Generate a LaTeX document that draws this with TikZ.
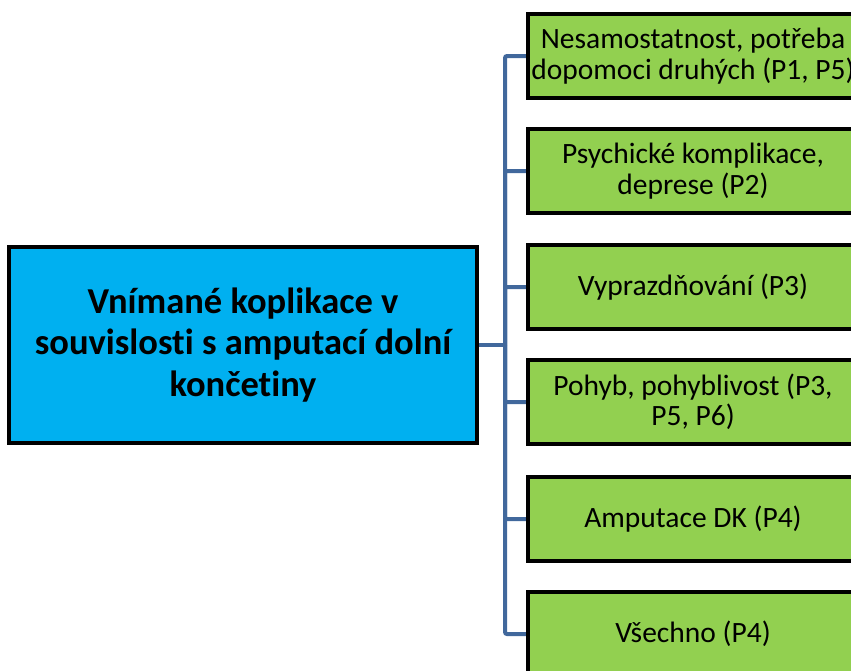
\documentclass[tikz,border=0pt]{standalone}
\usepackage{fontspec}
\setmainfont{Carlito}[Ligatures=NoCommon]
\usetikzlibrary{calc,backgrounds}
\definecolor{rootfill}{HTML}{00B0F0}
\definecolor{leaffill}{HTML}{92D050}
\definecolor{linkcol}{HTML}{41689C}
\begin{document}
\begin{tikzpicture}[x=1pt,y=-1pt,
  rootbox/.style={draw=black,line width=4pt,fill=rootfill,minimum width=468pt,minimum height=196pt,
    align=center,font=\fontsize{36.5}{41.5}\selectfont\bfseries,inner sep=0pt},
  leafbox/.style={draw=black,line width=4pt,fill=leaffill,minimum width=330pt,minimum height=84pt,
    align=center,font=\fontsize{29.5}{30.5}\selectfont,inner sep=0pt},
  link/.style={draw=linkcol,line width=4pt,rounded corners=2pt}]
\useasboundingbox (0,0) rectangle (851,670);
\clip (0,0) rectangle (851,670);
\node[rootbox] (root) at (243,345) {Vnímané koplikace v\\souvislosti s amputací dolní\\končetiny};
\node[leafbox] (b1) at (693,56) {Nesamostatnost, potřeba\\dopomoci druhých (P1, P5)};
\node[leafbox] (b2) at (693,171) {Psychické komplikace,\\deprese (P2)};
\node[leafbox] (b3) at (693,287) {Vyprazdňování (P3)};
\node[leafbox] (b4) at (693,402) {Pohyb, pohyblivost (P3,\\P5, P6)};
\node[leafbox] (b5) at (693,519) {Amputace DK (P4)};
\node[leafbox] (b6) at (693,634) {Všechno (P4)};
\coordinate (trunk) at ($(root.east)+(26,0)$);
\begin{scope}[on background layer]
  \draw[link] (root.east) -- (trunk);
  \foreach \b in {b1,b2,b3,b4,b5,b6}
    \draw[link] (trunk) |- (\b.west);
\end{scope}
\end{tikzpicture}
\end{document}
